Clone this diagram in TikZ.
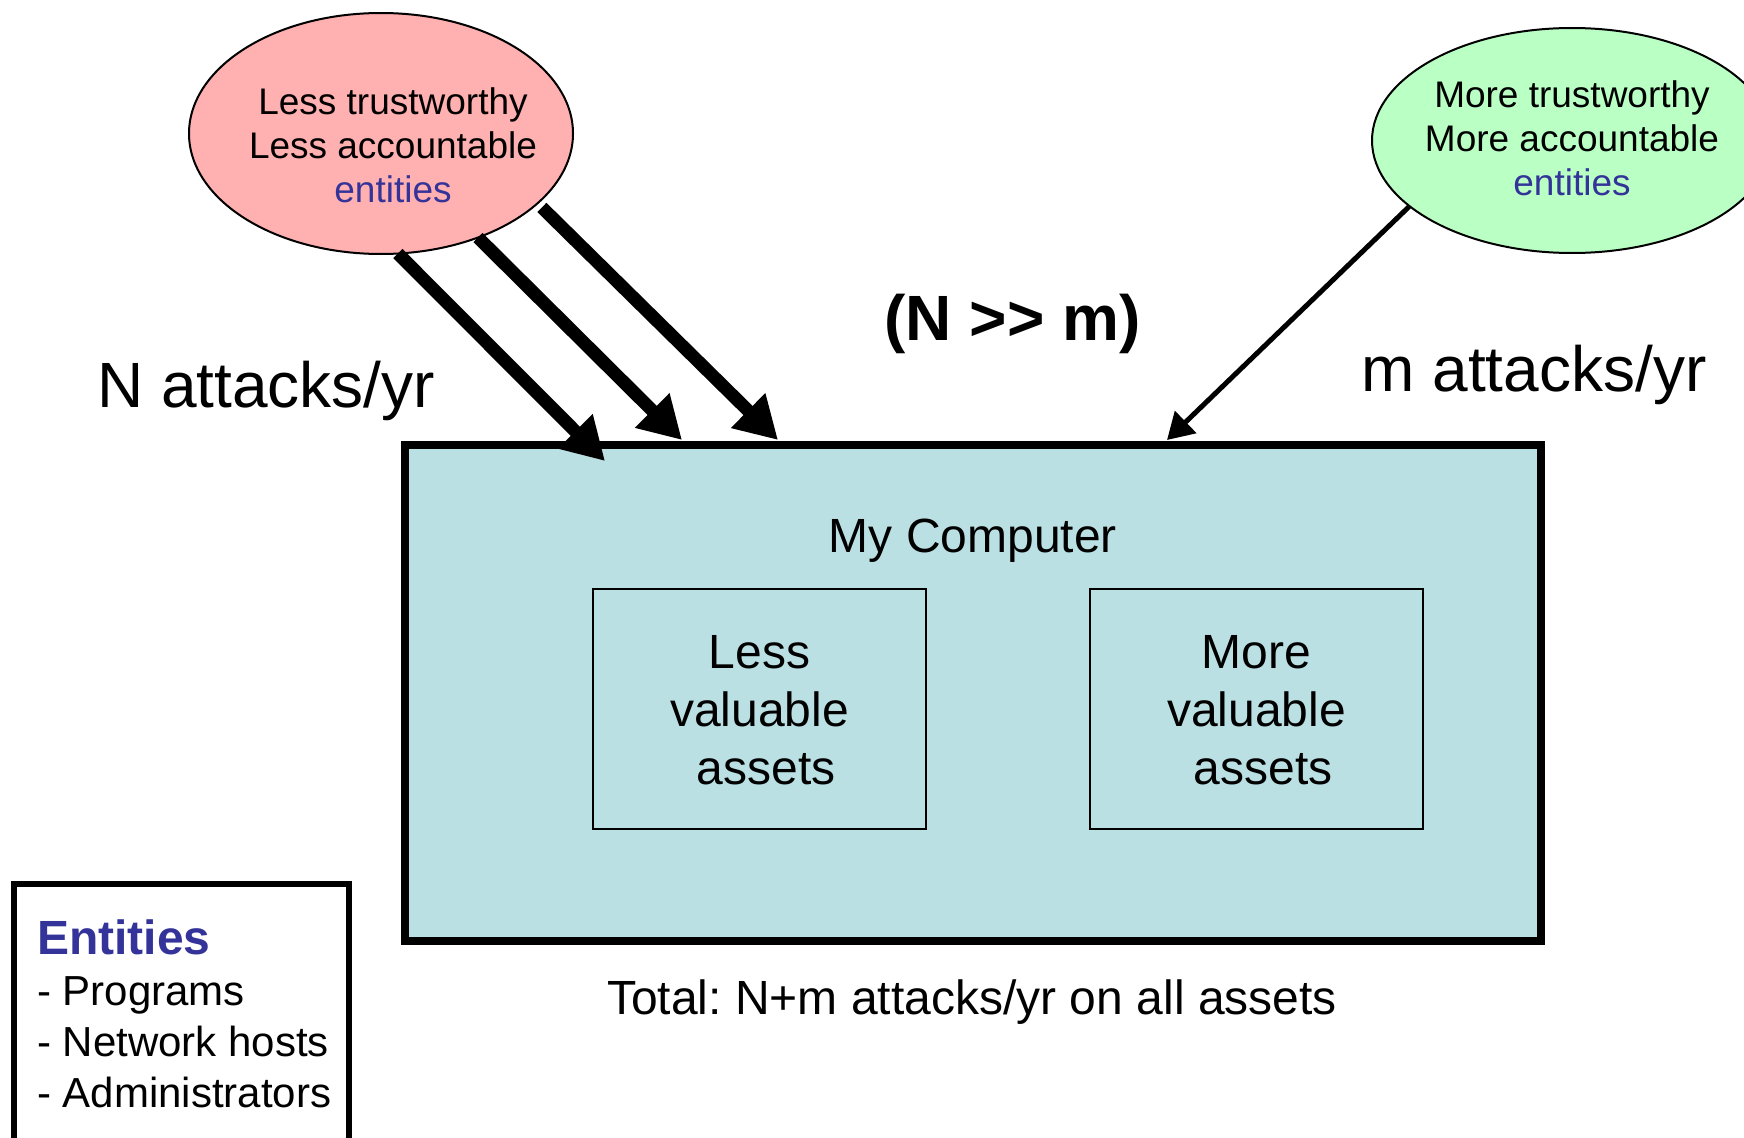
\documentclass[tikz,border=0pt]{standalone}
\usepackage{fontspec}
\setmainfont{Liberation Sans}
\usetikzlibrary{shapes.geometric,arrows.meta}
\definecolor{pinkfill}{RGB}{255,176,176}
\definecolor{greenfill}{RGB}{186,255,196}
\definecolor{boxfill}{RGB}{186,224,227}
\definecolor{eblue}{RGB}{51,51,153}
\frenchspacing
\begin{document}
\begin{tikzpicture}[x=1pt,y=-1pt,
  ell/.style={ellipse, draw, line width=2pt, inner sep=0pt, outer sep=0pt},
  etext/.style={font=\fontsize{37}{44}\selectfont, align=center, inner sep=0pt, anchor=base},
  mtext/.style={font=\fontsize{48}{58}\selectfont, align=center, inner sep=0pt, anchor=base},
  btext/.style={font=\fontsize{64}{77}\selectfont, inner sep=0pt, anchor=base},
  thick arrow/.style={line width=13pt, -{Triangle[length=42pt,width=46pt]}},
  thin arrow/.style={line width=5pt, -{Triangle[length=26pt,width=30pt]}},
  asset/.style={draw, line width=2pt, minimum width=333pt, minimum height=240pt, inner sep=0pt, outer sep=0pt}]
\clip (0,0) rectangle (1744,1137);
\fill[white] (0,0) rectangle (1744,1137);

% entity ellipses
\node[ell, fill=pinkfill, minimum width=384pt, minimum height=241pt] (pink) at (381,133.5) {};
\node[ell, fill=greenfill, minimum width=400pt, minimum height=225pt] (green) at (1572,140.5) {};
\node[etext] (pinktext) at (393,202) {Less trustworthy\\Less accountable\\\textcolor{eblue}{entities}};
\node[etext] (greentext) at (1572,195) {More trustworthy\\More accountable\\\textcolor{eblue}{entities}};

% computer
\node[draw, line width=8pt, fill=boxfill, minimum width=1136pt, minimum height=496pt, inner sep=0pt, outer sep=0pt] (comp) at (973,693) {};
\node[mtext] (complabel) at (973,552) {My Computer};
\node[asset] (lessbox) at (759.5,709) {};
\node[asset] (morebox) at (1256.5,709) {};
\node[mtext] (lesstext) at (759.5,784) {Less\\valuable\\\hspace*{13pt}assets};
\node[mtext] (moretext) at (1256.5,784) {More\\valuable\\\hspace*{13pt}assets};

% labels
\node[btext] (nlabel) at (266,407) {N attacks/yr};
\node[btext] (mlabel) at (1534,391.5) {m attacks/yr};
\node[btext, font=\fontsize{64}{77}\selectfont\bfseries] (ratio) at (1012.5,340) {(N >\kern0pt> m)};
\node[mtext] (total) at (972,1014) {Total: N+m attacks/yr on all assets};

% arrows
\coordinate (t1) at (605,461);
\coordinate (t2) at (682,440);
\coordinate (t3) at (778,440);
\coordinate (t4) at (1167,440);
\draw[thick arrow] (pink.-82.5) -- (t1);
\draw[thick arrow] (pink.-47) -- (t2);
\draw[thick arrow, shorten <=6pt] (pink.-24) -- (t3);
\draw[thin arrow] (green.-158.7) -- (t4);

% legend
\node[draw, line width=6pt, minimum width=335pt, minimum height=290pt, inner sep=0pt, outer sep=0pt] (legend) at (181,1029) {};
\node[font=\fontsize{42}{51}\selectfont, align=left, inner sep=0pt, anchor=base west] (legendtext) at (37,1107)
  {{\fontsize{48}{53}\selectfont\bfseries\color{eblue}Entities}\\- Programs\\- Network hosts\\- Administrators};
\end{tikzpicture}
\end{document}
